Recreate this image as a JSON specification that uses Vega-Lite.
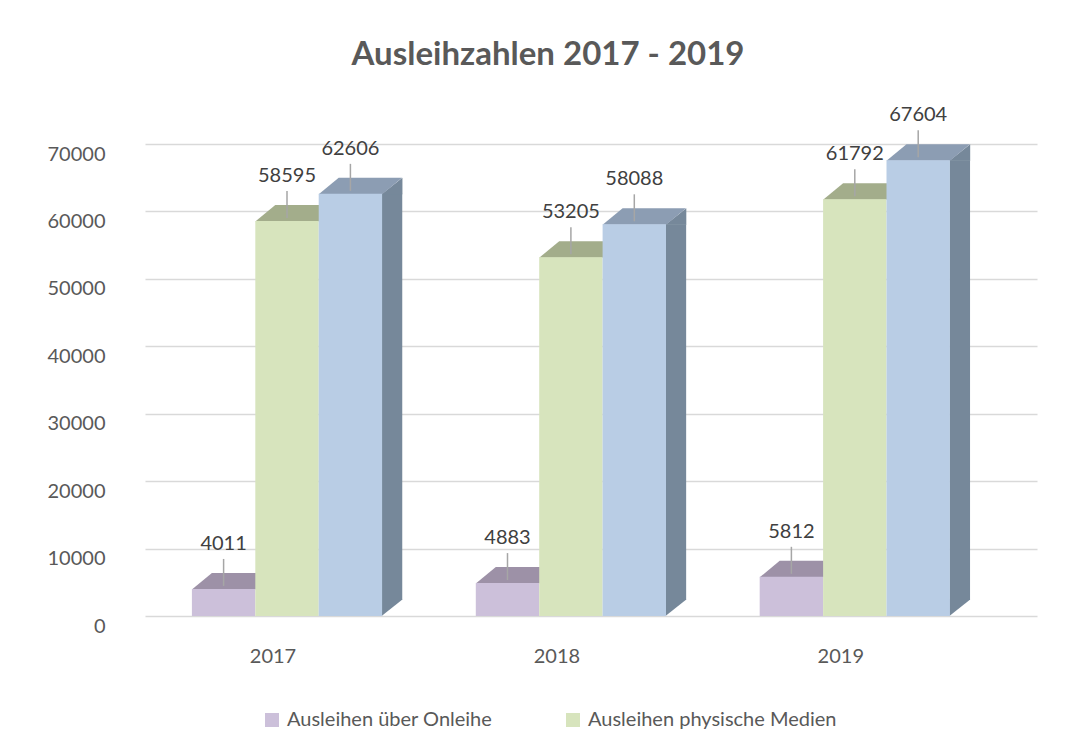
{
  "$schema": "https://vega.github.io/schema/vega-lite/v6.json",
  "width": 892,
  "height": 472,
  "autosize": {"type": "none"},
  "padding": {"left": 145, "top": 144, "right": 39, "bottom": 133},
  "background": "white",
  "config": {"view": {"stroke": null}, "font": "Lato"},
  "title": {
    "text": "Ausleihzahlen 2017 - 2019",
    "font": "Lato",
    "fontSize": 33,
    "fontWeight": "bold",
    "color": "#595959",
    "anchor": "middle",
    "dx": -43,
    "offset": 33
  },
  "data": {
    "values": [
      {"year": "2017", "series": "Ausleihen über Onleihe", "value": 4011},
      {"year": "2017", "series": "Ausleihen physische Medien", "value": 58595},
      {"year": "2017", "series": "Ausleihen gesamt", "value": 62606},
      {"year": "2018", "series": "Ausleihen über Onleihe", "value": 4883},
      {"year": "2018", "series": "Ausleihen physische Medien", "value": 53205},
      {"year": "2018", "series": "Ausleihen gesamt", "value": 58088},
      {"year": "2019", "series": "Ausleihen über Onleihe", "value": 5812},
      {"year": "2019", "series": "Ausleihen physische Medien", "value": 61792},
      {"year": "2019", "series": "Ausleihen gesamt", "value": 67604}
    ]
  },
  "encoding": {
    "x": {
      "field": "year",
      "type": "nominal",
      "scale": {"paddingInner": 0.33, "paddingOuter": 0.236, "align": 0.35},
      "axis": {
        "title": null,
        "labelAngle": 0,
        "labelFont": "Lato",
        "labelFontSize": 20,
        "labelColor": "#595959",
        "labelPadding": 30,
        "labelOffset": -14,
        "domain": false,
        "ticks": false
      }
    },
    "y": {
      "field": "value",
      "type": "quantitative",
      "scale": {"domain": [0, 70000], "nice": false},
      "axis": {
        "title": null,
        "values": [0, 10000, 20000, 30000, 40000, 50000, 60000, 70000],
        "format": "d",
        "grid": true,
        "gridColor": "#d9d9d9",
        "gridWidth": 1.5,
        "domain": false,
        "ticks": false,
        "labelFont": "Lato",
        "labelFontSize": 20,
        "labelColor": "#595959",
        "labelPadding": 40,
        "labelOffset": 10
      }
    }
  },
  "resolve": {"scale": {"color": "independent"}, "legend": {"color": "independent"}},
  "layer": [
    {
      "transform": [{"filter": "datum.series === 'Ausleihen gesamt'"}],
      "mark": {"type": "bar", "width": 20.5, "xOffset": 105, "y2Offset": -16, "color": "#76889a"},
      "encoding": {"y2": {"datum": 0}}
    },
    {
      "transform": [{"filter": "datum.series === 'Ausleihen gesamt'"}],
      "mark": {"type": "point", "shape": "M31.2,0.5L52,-16L52,0.5Z", "size": 4, "filled": true, "opacity": 1, "strokeWidth": 0, "color": "#76889a"},
      "encoding": {
        "xOffset": {"field": "series", "type": "nominal", "scale": {"domain": ["Ausleihen über Onleihe", "Ausleihen physische Medien", "Ausleihen gesamt"], "paddingInner": 0}}
      }
    },
    {
      "transform": [{"filter": "datum.series === 'Ausleihen gesamt'"}],
      "mark": {"type": "point", "shape": "M31.2,-16.5L52,-16.5L31.2,0Z", "size": 4, "filled": true, "opacity": 1, "strokeWidth": 0, "color": "#76889a"},
      "encoding": {
        "xOffset": {"field": "series", "type": "nominal"},
        "y": {"datum": 0}
      }
    },
    {
      "mark": {"type": "point", "shape": "M-31.7,0.5L31.7,0.5L51.7,-16L-11.7,-16Z", "size": 4, "filled": true, "opacity": 1, "strokeWidth": 0},
      "encoding": {
        "xOffset": {"field": "series", "type": "nominal"},
        "color": {
          "field": "series",
          "type": "nominal",
          "scale": {
            "domain": ["Ausleihen über Onleihe", "Ausleihen physische Medien", "Ausleihen gesamt"],
            "range": ["#9d91a7", "#a3ad8b", "#8c9db3"]
          },
          "legend": null
        }
      }
    },
    {
      "mark": {"type": "bar"},
      "encoding": {
        "xOffset": {"field": "series", "type": "nominal"},
        "color": {
          "field": "series",
          "type": "nominal",
          "scale": {
            "domain": ["Ausleihen über Onleihe", "Ausleihen physische Medien", "Ausleihen gesamt"],
            "range": ["#ccc0da", "#d7e4bd", "#b9cde5"]
          },
          "legend": {
            "values": ["Ausleihen über Onleihe", "Ausleihen physische Medien"],
            "title": null,
            "orient": "none",
            "legendX": 117,
            "legendY": 566,
            "direction": "horizontal",
            "symbolType": "square",
            "symbolSize": 196,
            "symbolStrokeWidth": 0,
            "labelFont": "Lato",
            "labelFontSize": 20,
            "labelColor": "#595959",
            "labelOffset": 5,
            "labelLimit": 400,
            "columnPadding": 70
          }
        }
      }
    },
    {
      "mark": {"type": "rule", "color": "#a6a6a6", "strokeWidth": 1.5, "yOffset": -3, "y2Offset": -30},
      "encoding": {
        "xOffset": {"field": "series", "type": "nominal"},
        "y2": {"field": "value"}
      }
    },
    {
      "mark": {"type": "text", "dy": -45, "fontSize": 20, "font": "Lato", "color": "#404040"},
      "encoding": {
        "xOffset": {"field": "series", "type": "nominal"},
        "text": {"field": "value", "type": "quantitative", "format": "d"}
      }
    }
  ]
}
